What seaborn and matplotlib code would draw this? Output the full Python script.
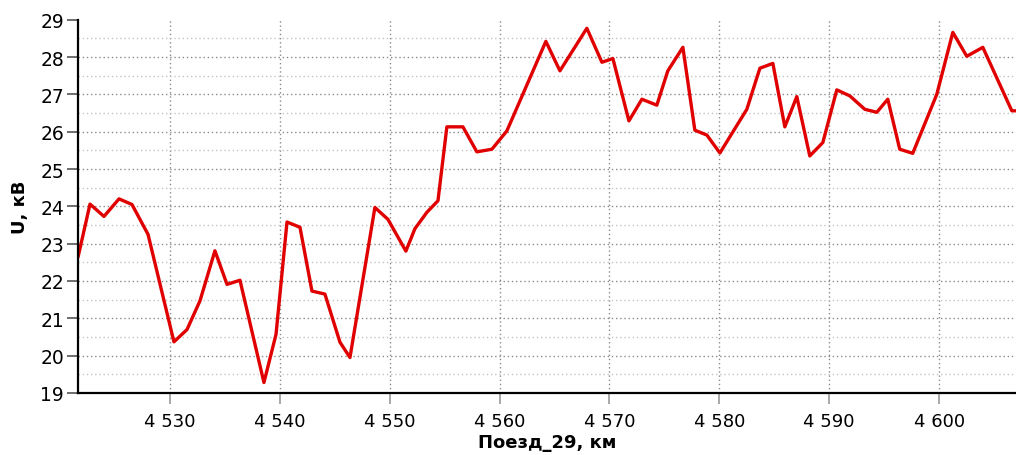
import numpy as np
import pandas as pd
import seaborn as sns
import matplotlib.pyplot as plt
from matplotlib.ticker import MultipleLocator, FuncFormatter

km = [4521.63, 4522.72, 4523.99, 4525.36, 4526.54, 4528.0, 4530.36, 4531.55,
      4532.73, 4534.09, 4535.19, 4536.37, 4538.55, 4539.65, 4540.65, 4541.83,
      4542.92, 4544.1, 4545.47, 4546.38, 4548.65, 4549.84, 4551.47, 4552.29,
      4553.38, 4554.39, 4555.2, 4556.66, 4557.93, 4559.3, 4560.66, 4564.21,
      4565.49, 4567.94, 4569.31, 4570.31, 4571.77, 4572.95, 4574.31, 4575.31,
      4576.68, 4577.77, 4578.86, 4580.05, 4582.5, 4583.69, 4584.87, 4585.96,
      4587.05, 4588.23, 4589.42, 4590.69, 4591.87, 4593.24, 4594.33, 4595.33,
      4596.42, 4597.6, 4599.79, 4601.25, 4602.52, 4603.98, 4606.62, 4607.0]
voltage = [22.64, 24.06, 23.73, 24.2, 24.05, 23.25, 20.37, 20.7,
           21.47, 22.81, 21.91, 22.02, 19.28, 20.57, 23.58, 23.44,
           21.73, 21.65, 20.36, 19.95, 23.97, 23.65, 22.8, 23.4,
           23.84, 24.15, 26.13, 26.13, 25.46, 25.53, 26.02, 28.42,
           27.63, 28.77, 27.86, 27.96, 26.29, 26.87, 26.71, 27.63,
           28.26, 26.04, 25.91, 25.43, 26.6, 27.7, 27.83, 26.13,
           26.94, 25.35, 25.71, 27.12, 26.96, 26.6, 26.52, 26.87,
           25.53, 25.42, 27.0, 28.66, 28.02, 28.26, 26.56, 26.56]

df = pd.DataFrame({'km': km, 'U': voltage})

sns.set_style('white')
plt.rcParams['font.family'] = ['DejaVu Sans']
plt.rcParams['text.color'] = 'black'
plt.rcParams['axes.labelcolor'] = 'black'
plt.rcParams['xtick.labelcolor'] = 'black'
plt.rcParams['ytick.labelcolor'] = 'black'

fig = plt.figure(figsize=(10.16, 4.56), dpi=100)
ax = fig.add_axes([0.0768, 0.136, 0.9232, 0.8186])

ax.set_xlim(4521.63, 4607.0)
ax.set_ylim(19, 29)

ax.xaxis.set_major_locator(MultipleLocator(10))
ax.yaxis.set_major_locator(MultipleLocator(1))
ax.yaxis.set_minor_locator(MultipleLocator(0.5))
ax.xaxis.set_major_formatter(FuncFormatter(lambda v, p: f"{v:,.0f}".replace(",", " ")))

ax.grid(True, which='major', axis='both', color='#8a8a8a', linestyle=(0, (1, 2)), linewidth=1.0)
ax.grid(True, which='minor', axis='y', color='#c4c4c4', linestyle=(0, (1, 2)), linewidth=1.0)
ax.set_axisbelow(True)

sns.lineplot(data=df, x='km', y='U', ax=ax, color='#e00000', linewidth=2.4,
             estimator=None, sort=False)

for s in ['top', 'right']:
    ax.spines[s].set_visible(False)
for s in ['left', 'bottom']:
    ax.spines[s].set_color('black')
    ax.spines[s].set_linewidth(1.6)

ax.tick_params(axis='y', which='major', length=8, width=1.2, color='#555555',
               labelsize=13.5, left=True, pad=2)
ax.tick_params(axis='y', which='minor', length=0)
ax.tick_params(axis='x', which='major', length=8, width=1.2, color='#999999',
               labelsize=13, bottom=True, pad=6)

# no horizontal grid line along the top edge
fig.canvas.draw()
for tick in ax.yaxis.get_major_ticks():
    if abs(tick.get_loc() - 29) < 1e-6:
        tick.gridline.set_visible(False)

ax.set_xlabel('Поезд_29, км', fontsize=13, fontweight='bold', labelpad=2)
ax.set_ylabel('U, кВ', fontsize=13, fontweight='bold', labelpad=8)

fig.savefig('out.png', dpi=100)
